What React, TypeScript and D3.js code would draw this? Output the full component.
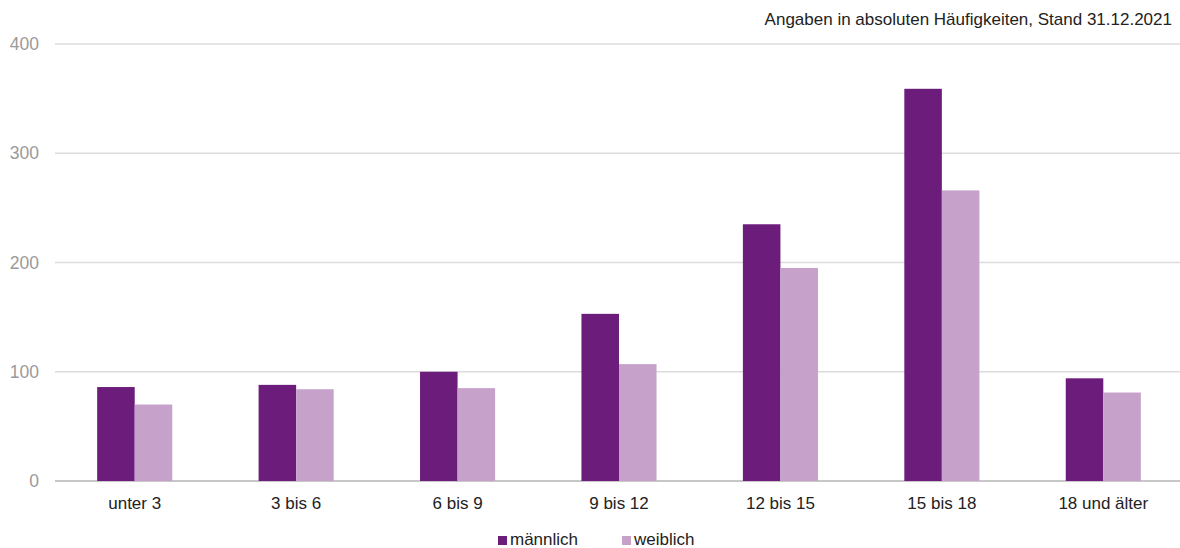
// Altersverteilung nach Geschlecht – grouped bar chart with D3
import React, { useEffect, useRef } from 'react';
import * as d3 from 'd3';

const categories = ['unter 3', '3 bis 6', '6 bis 9', '9 bis 12', '12 bis 15', '15 bis 18', '18 und älter'];
const maennlich = [86, 88, 100, 153, 235, 359, 94];
const weiblich = [70, 84, 85, 107, 195, 266, 81];
const seriesNames = ['männlich', 'weiblich'];
const seriesColors = ['#6c1d7c', '#c6a2cb'];
const yTicks = [0, 100, 200, 300, 400];

const W = 1180;
const H = 548;

const App = () => {
  const svgRef = useRef<SVGSVGElement>(null);

  useEffect(() => {
    if (!svgRef.current) return;
    const svg = d3.select(svgRef.current);
    svg.selectAll('*').remove();

    const font = '"Liberation Sans", Arial, Helvetica, sans-serif';
    const left = 54;
    const right = 1184;
    const top = 44;
    const bottom = 481;

    const x = d3.scaleBand().domain(categories).range([left, right]).paddingInner(0).paddingOuter(0);
    const xInner = d3.scaleBand().domain(seriesNames).range([0, x.bandwidth()]).paddingOuter(1.15).paddingInner(0);
    const y = d3.scaleLinear().domain([0, 400]).range([bottom, top]);

    // gridlines + y tick labels
    const grid = svg.append('g');
    grid.selectAll('line')
      .data(yTicks)
      .enter()
      .append('line')
      .attr('x1', left + 1)
      .attr('x2', W)
      .attr('y1', d => y(d))
      .attr('y2', d => y(d))
      .attr('stroke', d => (d === 0 ? '#b5b5b5' : '#dcdcdc'))
      .attr('stroke-width', 1.3);

    grid.selectAll('text')
      .data(yTicks)
      .enter()
      .append('text')
      .attr('x', 39)
      .attr('y', d => y(d) + 6)
      .attr('text-anchor', 'end')
      .attr('font-family', font)
      .attr('font-size', 17.5)
      .attr('fill', '#9a9a9a')
      .text(d => d);

    // bars
    const data = categories.map((c, i) => ({ cat: c, values: [maennlich[i], weiblich[i]] }));
    const groups = svg.append('g')
      .selectAll('g')
      .data(data)
      .enter()
      .append('g')
      .attr('transform', d => `translate(${x(d.cat)},0)`);

    groups.selectAll('rect')
      .data(d => d.values.map((v, j) => ({ key: seriesNames[j], v, j })))
      .enter()
      .append('rect')
      .attr('x', d => xInner(d.key) || 0)
      .attr('width', xInner.bandwidth())
      .attr('y', d => y(d.v))
      .attr('height', d => y(0) - y(d.v))
      .attr('fill', d => seriesColors[d.j]);

    // category labels
    svg.append('g')
      .selectAll('text')
      .data(categories)
      .enter()
      .append('text')
      .attr('x', d => (x(d) || 0) + x.bandwidth() / 2)
      .attr('y', 509)
      .attr('text-anchor', 'middle')
      .attr('font-family', font)
      .attr('font-size', 17)
      .attr('fill', '#222')
      .text(d => d);

    // title note
    svg.append('text')
      .attr('x', 1172)
      .attr('y', 25)
      .attr('text-anchor', 'end')
      .attr('font-family', font)
      .attr('font-size', 17)
      .attr('fill', '#222')
      .text('Angaben in absoluten Häufigkeiten, Stand 31.12.2021');

    // legend
    const legendX = [498, 622];
    const legend = svg.append('g');
    seriesNames.forEach((name, i) => {
      legend.append('rect')
        .attr('x', legendX[i])
        .attr('y', 536)
        .attr('width', 9)
        .attr('height', 9)
        .attr('fill', seriesColors[i]);
      legend.append('text')
        .attr('x', legendX[i] + 12)
        .attr('y', 545)
        .attr('font-family', font)
        .attr('font-size', 17)
        .attr('fill', '#222')
        .text(name);
    });
  }, []);

  return (
    <div style={{ position: 'absolute', left: 0, top: 0, width: W, height: H, background: '#fff' }}>
      <svg ref={svgRef} width={W} height={H} />
    </div>
  );
};

export default App;
